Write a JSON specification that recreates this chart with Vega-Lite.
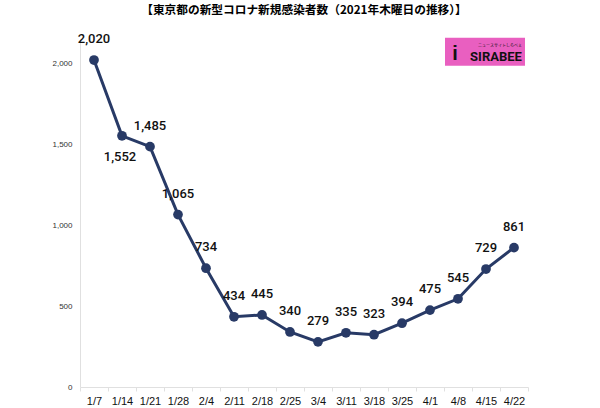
{
  "$schema": "https://vega.github.io/schema/vega-lite/v6.json",
  "width": 448,
  "height": 348,
  "autosize": {"type": "none"},
  "padding": {"left": 80, "top": 39, "right": 72, "bottom": 21},
  "background": "white",
  "config": {"view": {"stroke": null}, "font": "Liberation Sans"},
  "title": {
    "text": "【東京都の新型コロナ新規感染者数（2021年木曜日の推移）】",
    "font": "Noto Sans CJK JP",
    "fontSize": 11.7,
    "fontWeight": "bold",
    "color": "#000000",
    "anchor": "middle",
    "offset": 16
  },
  "data": {
    "values": [
      {"date": "1/7", "cases": 2020},
      {"date": "1/14", "cases": 1552},
      {"date": "1/21", "cases": 1485},
      {"date": "1/28", "cases": 1065},
      {"date": "2/4", "cases": 734},
      {"date": "2/11", "cases": 434},
      {"date": "2/18", "cases": 445},
      {"date": "2/25", "cases": 340},
      {"date": "3/4", "cases": 279},
      {"date": "3/11", "cases": 335},
      {"date": "3/18", "cases": 323},
      {"date": "3/25", "cases": 394},
      {"date": "4/1", "cases": 475},
      {"date": "4/8", "cases": 545},
      {"date": "4/15", "cases": 729},
      {"date": "4/22", "cases": 861}
    ]
  },
  "encoding": {
    "x": {
      "field": "date",
      "type": "ordinal",
      "sort": null,
      "scale": {"type": "band", "paddingInner": 0, "paddingOuter": 0},
      "axis": {
        "title": null,
        "labelAngle": 0,
        "labelFontSize": 11,
        "labelColor": "#111111",
        "labelPadding": 4,
        "domainColor": "#e0e0e0",
        "tickColor": "#e0e0e0",
        "tickBand": "extent",
        "tickSize": 4,
        "grid": false
      }
    },
    "y": {
      "field": "cases",
      "type": "quantitative",
      "scale": {"domain": [0, 2150], "nice": false},
      "axis": {
        "title": null,
        "values": [0, 500, 1000, 1500, 2000],
        "format": ",.0f",
        "labelFontSize": 8,
        "labelColor": "#333333",
        "labelPadding": 8,
        "domainColor": "#e0e0e0",
        "ticks": false,
        "grid": false
      }
    }
  },
  "layer": [
    {"mark": {"type": "line", "color": "#283a66", "strokeWidth": 3}},
    {"mark": {"type": "point", "filled": true, "color": "#283a66", "size": 95, "opacity": 1}},
    {
      "transform": [{"filter": "datum.date != '1/14'"}],
      "mark": {"type": "text", "dy": -21, "fontSize": 13, "font": "Roboto", "fontWeight": 500, "color": "#111111", "baseline": "middle"},
      "encoding": {"text": {"field": "cases", "type": "quantitative", "format": ",.0f"}}
    },
    {
      "transform": [{"filter": "datum.date == '1/14'"}],
      "mark": {"type": "text", "dy": 21, "dx": -2, "fontSize": 13, "font": "Roboto", "fontWeight": 500, "color": "#111111", "baseline": "middle"},
      "encoding": {"text": {"field": "cases", "type": "quantitative", "format": ",.0f"}}
    },
    {
      "transform": [{"filter": "datum.date == '4/8'"}],
      "mark": {"type": "rect", "color": "#e95fc0", "clip": false, "width": 80, "height": 28, "xOffset": -1},
      "encoding": {
        "x": {"datum": "4/15"},
        "y": {"datum": 2072},
        "y2": null
      }
    },
    {
      "transform": [{"filter": "datum.date == '4/8'"}],
      "mark": {"type": "text", "text": "SIRABEE", "font": "Roboto", "fontSize": 13, "fontWeight": "bold", "color": "#111111", "baseline": "middle", "align": "center", "dx": 10},
      "encoding": {
        "x": {"datum": "4/15"},
        "y": {"datum": 2040}
      }
    },
    {
      "transform": [{"filter": "datum.date == '4/8'"}],
      "mark": {"type": "text", "text": "ニュースサイトしらべぇ", "font": "Noto Sans CJK JP", "fontSize": 4, "color": "#111111", "baseline": "middle", "align": "center", "dx": 14},
      "encoding": {
        "x": {"datum": "4/15"},
        "y": {"datum": 2105}
      }
    },
    {
      "transform": [{"filter": "datum.date == '4/8'"}],
      "mark": {"type": "text", "text": "i", "font": "Liberation Sans", "fontSize": 20, "fontWeight": "bold", "color": "#111111", "baseline": "middle", "align": "center", "dx": -31},
      "encoding": {
        "x": {"datum": "4/15"},
        "y": {"datum": 2060}
      }
    }
  ]
}
